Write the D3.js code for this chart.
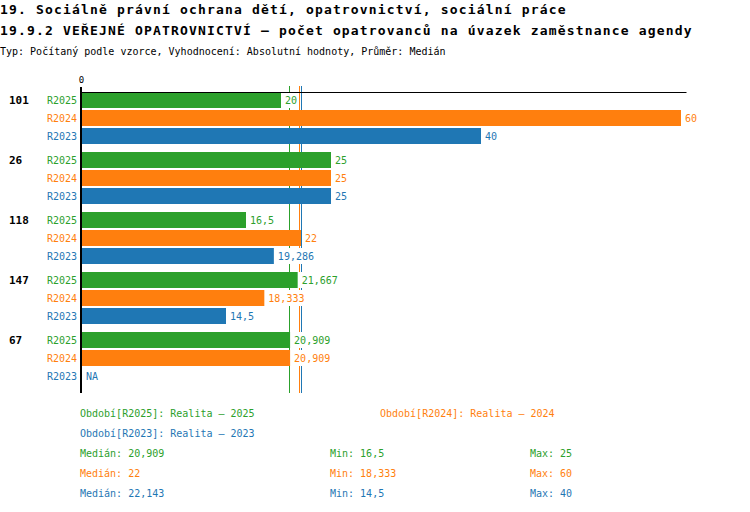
<!DOCTYPE html>
<html>
<head>
	<title>Veřejné opatrovnictví</title>
	<meta charset='utf-8'>
	<style>
		body {
			margin: 0;
			background-color: #fff;
		}

		text {
			font-family: 'DejaVu Sans Mono', monospace;
			font-size: 10px;
		}

		.title {
			font-size: 13px;
			font-weight: bold;
			letter-spacing: 1.17px;
			fill: #000;
		}

		.group-label {
			font-size: 11px;
			font-weight: bold;
		}

		.axis path.domain {
			stroke: #000;
			stroke-width: 1px;
		}

		.axis text {
			font-size: 9px;
			fill: #000;
		}

		.median {
			stroke-width: 1px;
		}

		.value rect {
			fill: #fff;
		}
	</style>
</head>
<body>

<script src='https://d3js.org/d3.v7.min.js'></script>
<script>
	'use strict';
	const width = 750;
	const height = 512;

	// data
	const groups = ['101', '26', '118', '147', '67'];
	const series = ['R2025', 'R2024', 'R2023'];
	const colors = ['#2ca02c', '#ff7f0e', '#1f77b4'];
	const valuesR2025 = [20, 25, 16.5, 21.667, 20.909];
	const valuesR2024 = [60, 25, 22, 18.333, 20.909];
	const valuesR2023 = [40, 25, 19.286, 14.5, null];
	const periodNames = ['Realita – 2025', 'Realita – 2024', 'Realita – 2023'];

	const values = [valuesR2025, valuesR2024, valuesR2023];

	const locale = d3.formatLocale({decimal: ',', thousands: ' ', grouping: [3], currency: ['', ' Kč']});
	const fmt = locale.format('.3~f');

	const svg = d3.select('body').append('svg')
		.attr('width', width)
		.attr('height', height);

	// nadpisy
	svg.append('text').attr('class', 'title')
		.attr('x', 0).attr('y', 14)
		.text('19. Sociálně právní ochrana dětí, opatrovnictví, sociální práce');
	svg.append('text').attr('class', 'title')
		.attr('x', 0).attr('y', 35)
		.text('19.9.2 VEŘEJNÉ OPATROVNICTVÍ – počet opatrovanců na úvazek zaměstnance agendy');
	svg.append('text')
		.attr('x', 0).attr('y', 54.5)
		.text('Typ: Počítaný podle vzorce, Vyhodnocení: Absolutní hodnoty, Průměr: Medián');

	const xScale = d3.scaleLinear().domain([0, 60.5]).range([81, 686]);
	const yGroup = d3.scaleBand().domain(groups).range([92, 392]);
	const ySeries = d3.scaleBand().domain(series).range([0, 54]);
	const barHeight = ySeries.bandwidth() - 2;

	const rows = [];
	groups.forEach(function(g, gi) {
		series.forEach(function(s, si) {
			rows.push({group: g, series: s, color: colors[si], value: values[si][gi]});
		});
	});

	const stats = series.map(function(s, si) {
		return {
			series: s,
			color: colors[si],
			median: d3.median(values[si]),
			min: d3.min(values[si]),
			max: d3.max(values[si])
		};
	});

	// mediány (za sloupci)
	svg.selectAll('.median')
		.data(stats)
		.enter()
		.append('line')
		.attr('class', 'median')
		.attr('x1', function(d) {return Math.floor(xScale(d.median) - 1.05) + 0.5;})
		.attr('x2', function(d) {return Math.floor(xScale(d.median) - 1.05) + 0.5;})
		.attr('y1', 86)
		.attr('y2', 393)
		.attr('stroke', function(d) {return d.color;});

	svg.selectAll('.bar')
		.data(rows.filter(function(d) {return d.value != null;}))
		.enter()
		.append('rect')
		.attr('class', 'bar')
		.attr('x', xScale(0))
		.attr('y', function(d) {return yGroup(d.group) + ySeries(d.series);})
		.attr('width', function(d) {return xScale(d.value) - xScale(0);})
		.attr('height', barHeight)
		.attr('fill', function(d) {return d.color;});

	// popisky hodnot s bílým podkladem
	const values_g = svg.selectAll('.value')
		.data(rows)
		.enter()
		.append('g')
		.attr('class', 'value')
		.attr('transform', function(d) {
			const x = d.value == null ? xScale(0) + 1 : xScale(d.value);
			return 'translate(' + x + ',' + (yGroup(d.group) + ySeries(d.series)) + ')';
		});

	values_g.append('rect')
		.attr('x', 1)
		.attr('y', 0)
		.attr('height', barHeight);

	values_g.append('text')
		.attr('x', 4)
		.attr('y', barHeight / 2)
		.attr('dy', '0.36em')
		.attr('fill', function(d) {return d.color;})
		.text(function(d) {return d.value == null ? 'NA' : fmt(d.value);});

	values_g.each(function() {
		const g = d3.select(this);
		const len = g.select('text').node().getComputedTextLength();
		g.select('rect').attr('width', len + 4);
	});

	svg.selectAll('.series-label')
		.data(rows)
		.enter()
		.append('text')
		.attr('class', 'series-label')
		.attr('x', 77)
		.attr('y', function(d) {return yGroup(d.group) + ySeries(d.series) + barHeight / 2;})
		.attr('dy', '0.36em')
		.attr('text-anchor', 'end')
		.attr('fill', function(d) {return d.color;})
		.text(function(d) {return d.series;});

	svg.selectAll('.group-label')
		.data(groups)
		.enter()
		.append('text')
		.attr('class', 'group-label')
		.attr('x', 9)
		.attr('y', function(d) {return yGroup(d) + ySeries(series[0]) + barHeight / 2;})
		.attr('dy', '0.36em')
		.text(function(d) {return d;});

	// osa
	svg.append('g')
		.attr('class', 'axis')
		.attr('transform', 'translate(0,92)')
		.call(d3.axisTop(xScale).tickValues([0]).tickSize(0).tickPadding(9).tickSizeOuter(0));

	svg.append('line')
		.attr('x1', xScale(0)).attr('x2', xScale(0))
		.attr('y1', 87).attr('y2', 393)
		.attr('stroke', '#000')
		.attr('stroke-width', 2);

	// legenda
	svg.selectAll('.legend')
		.data(stats)
		.enter()
		.append('text')
		.attr('class', 'legend')
		.attr('x', function(d, i) {return i % 2 === 0 ? 80 : 380;})
		.attr('y', function(d, i) {return 417 + Math.floor(i / 2) * 20;})
		.attr('fill', function(d) {return d.color;})
		.text(function(d, i) {return 'Období[' + d.series + ']: ' + periodNames[i];});

	const statRows = svg.selectAll('.stat')
		.data(stats)
		.enter()
		.append('g')
		.attr('class', 'stat')
		.attr('fill', function(d) {return d.color;})
		.attr('transform', function(d, i) {return 'translate(0,' + (457 + i * 20) + ')';});

	statRows.append('text').attr('x', 80).text(function(d) {return 'Medián: ' + fmt(d.median);});
	statRows.append('text').attr('x', 330).text(function(d) {return 'Min: ' + fmt(d.min);});
	statRows.append('text').attr('x', 530).text(function(d) {return 'Max: ' + fmt(d.max);});

</script>
</body>
</html>
